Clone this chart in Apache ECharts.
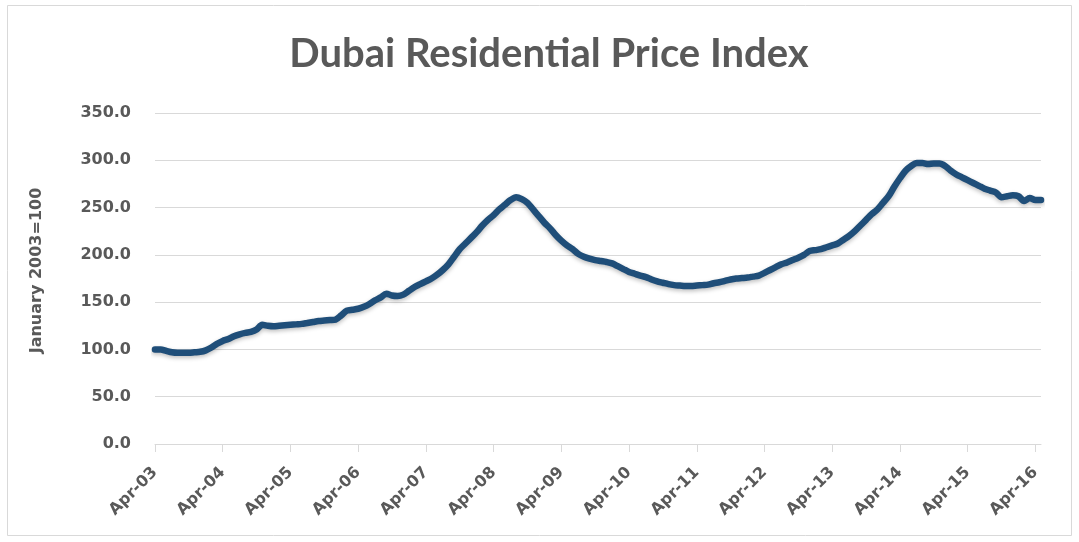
<!DOCTYPE html>
<html>
<head>
<meta charset="utf-8">
<script src="https://cdn.jsdelivr.net/npm/echarts@6/dist/echarts.min.js"></script>
<style>
    html, body { margin: 0; padding: 0; background: #fff; }
    #chart { width: 1079px; height: 542px; }
</style>
</head>
<body>
<div id="chart"></div>
<script>
// monthly index, Apr-03 .. May-16
const monthNames = ['Jan', 'Feb', 'Mar', 'Apr', 'May', 'Jun', 'Jul', 'Aug', 'Sep', 'Oct', 'Nov', 'Dec'];
const startYear = 2003;
const startMonth = 3; // April

const indexValues = [
    100, 100, 98.5, 97, 96.5, 96.5, 96.5, 97, 97.5, 99, 102, 106,
    109, 111, 114, 116, 117.5, 118.5, 121, 126, 125, 124.5, 125, 125.5,
    126, 126.5, 127, 128, 129, 130, 130.5, 131, 131.5, 136, 141, 142,
    143, 145, 148, 152, 155, 159, 157, 156.5, 158, 162, 166, 169,
    172, 175, 179, 184, 190, 198, 206, 212, 218, 224, 231, 237,
    242, 248, 253, 258, 261, 259, 255, 248, 241, 234, 228, 221,
    215, 210, 206, 201, 198, 196, 194.5, 193.5, 192.5, 191, 188, 185,
    182, 180, 178, 176.5, 174, 172, 170.5, 169, 168, 167.5, 167, 167,
    167.5, 168, 168.5, 170, 171, 172.5, 174, 175, 175.5, 176, 177, 178,
    181, 184, 187, 190, 192, 194.5, 197, 200, 204, 205, 206, 208,
    210, 212, 216, 220, 225, 231, 237, 243, 248, 255, 262, 272,
    281, 289, 294, 297, 297, 296, 296.5, 296.5, 294, 289, 285, 282,
    279, 276, 273, 270, 268, 266, 261, 262, 263, 262, 257, 260,
    258, 258
];

const categories = indexValues.map((v, i) => {
    const m = (startMonth + i) % 12;
    const y = startYear + Math.floor((startMonth + i) / 12);
    return monthNames[m] + '-' + String(y).slice(2);
});

const yTicks = { min: 0, max: 350, interval: 50 };
const textGrey = '#595959';
const axisFont = 'DejaVu Sans';

const chart = echarts.init(document.getElementById('chart'));
chart.setOption({
    animation: false,
    backgroundColor: '#fff',
    title: {
        text: 'Dubai Residential Price Index',
        left: 544,
        top: 29,
        textAlign: 'center',
        textStyle: {
            fontFamily: 'Lato',
            fontSize: 40,
            fontWeight: 'bold',
            color: textGrey
        }
    },
    graphic: [{
        type: 'rect',
        shape: { x: 7.5, y: 5.5, width: 1064, height: 530 },
        style: { fill: 'none', stroke: '#d9d9d9', lineWidth: 1 },
        silent: true
    }],
    grid: {
        left: 155,
        right: 38,
        top: 113,
        bottom: 98
    },
    xAxis: {
        type: 'category',
        data: categories,
        boundaryGap: false,
        axisLine: { lineStyle: { color: '#d9d9d9', width: 1 } },
        axisTick: {
            show: true,
            interval: (idx) => idx % 12 === 0,
            length: 8,
            lineStyle: { color: '#d9d9d9' }
        },
        axisLabel: {
            interval: (idx) => idx % 12 === 0,
            rotate: 45,
            margin: 26,
            padding: [36, 0, 0, 0],
            fontFamily: axisFont,
            fontSize: 16,
            fontWeight: 'bold',
            color: textGrey
        },
        splitLine: { show: false }
    },
    yAxis: {
        type: 'value',
        min: yTicks.min,
        max: yTicks.max,
        interval: yTicks.interval,
        name: 'January 2003=100',
        nameLocation: 'middle',
        nameGap: 110,
        nameTextStyle: {
            fontFamily: axisFont,
            fontSize: 16,
            fontWeight: 'bold',
            color: textGrey,
            padding: [0, 0, 0, 16]
        },
        axisLine: { show: false },
        axisTick: { show: false },
        axisLabel: {
            margin: 24,
            fontFamily: axisFont,
            fontSize: 16,
            fontWeight: 'bold',
            color: textGrey,
            formatter: (v) => v.toFixed(1)
        },
        splitLine: { lineStyle: { color: '#d9d9d9', width: 1 } }
    },
    series: [{
        type: 'line',
        data: indexValues,
        showSymbol: false,
        smooth: 0.3,
        lineStyle: {
            color: '#1f4e79',
            width: 6.5,
            cap: 'round',
            join: 'round',
            shadowColor: 'rgba(0,0,0,0.25)',
            shadowBlur: 4,
            shadowOffsetY: 2
        }
    }]
});
</script>
</body>
</html>
